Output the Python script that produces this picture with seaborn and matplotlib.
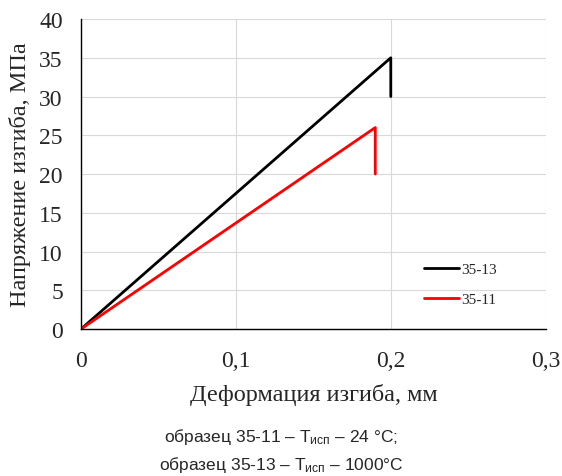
import numpy as np
import pandas as pd
import matplotlib
matplotlib.use('Agg')
import matplotlib.pyplot as plt
import seaborn as sns

# Data
strain_35_13 = [0.0, 0.2, 0.2]
stress_35_13 = [0.0, 35.0, 30.0]
strain_35_11 = [0.0, 0.19, 0.19]
stress_35_11 = [0.0, 26.0, 20.0]
series_labels = ['35-13', '35-11']
series_colors = ['black', '#ff0000']

rows = []
for lab, xs, ys in zip(series_labels,
                       [strain_35_13, strain_35_11],
                       [stress_35_13, stress_35_11]):
    for i, (x, y) in enumerate(zip(xs, ys)):
        rows.append({'sample': lab, 'order': i, 'strain': x, 'stress': y})
df = pd.DataFrame(rows)

sns.set_style('white')
plt.rcParams['font.family'] = ['Liberation Serif', 'DejaVu Serif']
plt.rcParams['mathtext.fontset'] = 'custom'
plt.rcParams['mathtext.rm'] = 'Liberation Sans'
plt.rcParams['mathtext.it'] = 'Liberation Sans'

fig = plt.figure(figsize=(5.62, 4.77), dpi=100)
ax = fig.add_axes([0.144, 0.308, 0.827, 0.650])

sns.lineplot(data=df, x='strain', y='stress', hue='sample', units='sample',
             estimator=None, sort=False, palette=dict(zip(series_labels, series_colors)),
             hue_order=series_labels, linewidth=2, ax=ax)

ax.set_xlim(0, 0.3)
ax.set_ylim(0, 40)
ax.set_xticks([0, 0.1, 0.2, 0.3])
ax.set_xticklabels(['0', '0,1', '0,2', '0,3'])
ax.set_yticks(np.arange(0, 41, 5))
ax.tick_params(labelsize=17, length=0)
ax.tick_params(axis='y', pad=13)
ax.tick_params(axis='x', pad=15)
ax.grid(True, color='#d9d9d9', linewidth=0.8)
for side in ['top', 'right']:
    ax.spines[side].set_visible(False)
for side in ['left', 'bottom']:
    ax.spines[side].set_color('black')
    ax.spines[side].set_linewidth(1)

ax.set_xlabel('Деформация изгиба, мм', fontsize=17.5, labelpad=9)
ax.set_ylabel('Напряжение изгиба, МПа', fontsize=17.5, labelpad=6)

leg = ax.legend(loc='center left', bbox_to_anchor=(0.709, 0.144), frameon=False,
                fontsize=11, handlelength=2.3, handletextpad=0.15, labelspacing=1.05)

fig.text(0.5, 0.0725, 'образец 35-11 – Т$_{\\mathrm{исп}}$ – 24 °C;',
         ha='center', fontsize=12.5, family=['Liberation Sans', 'DejaVu Sans'])
fig.text(0.5, 0.0145, 'образец 35-13 – Т$_{\\mathrm{исп}}$ – 1000°C',
         ha='center', fontsize=12.5, family=['Liberation Sans', 'DejaVu Sans'])

fig.savefig('out.png', dpi=100)
